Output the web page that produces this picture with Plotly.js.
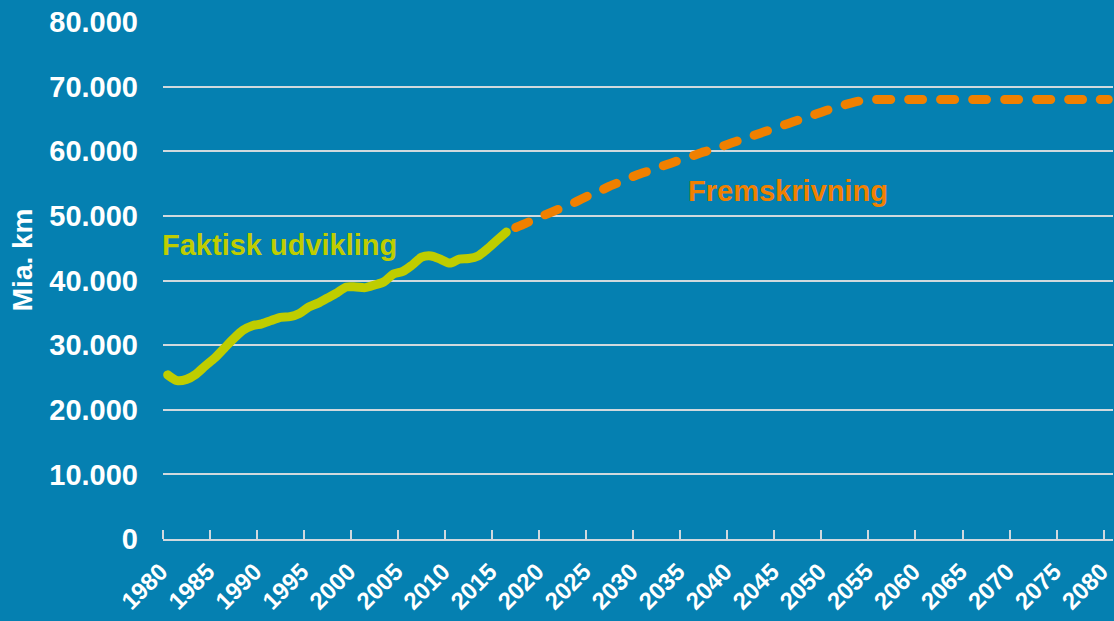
<!DOCTYPE html>
<html>
<head>
<meta charset="utf-8">
<script src="https://cdn.plot.ly/plotly-3.0.1.min.js"></script>
<style>
  html, body { margin: 0; padding: 0; background: #0580b1; }
  #chart { width: 1114px; height: 621px; }
  .scatterlayer .js-line { stroke-linecap: round !important; }
</style>
</head>
<body>
<div id="chart"></div>
<script>
// Actual development (Faktisk udvikling), 1980-2016, mia. km
const actualYears = [1980,1981,1982,1983,1984,1985,1986,1987,1988,1989,1990,1991,1992,1993,1994,1995,1996,1997,1998,1999,2000,2001,2002,2003,2004,2005,2006,2007,2008,2009,2010,2011,2012,2013,2014,2015,2016];
const actualValues = [25400,24500,24700,25500,26800,28000,29500,31000,32300,33000,33300,33800,34300,34400,34900,35900,36500,37300,38100,39000,39000,38900,39300,39800,41000,41400,42400,43600,43800,43300,42700,43300,43400,43800,44900,46200,47500];

// Projection (Fremskrivning), 2017-2080, mia. km
const projYears = [2017,2018,2019,2020,2021,2022,2023,2024,2025,2026,2027,2028,2029,2030,2031,2032,2033,2034,2035,2036,2037,2038,2039,2040,2041,2042,2043,2044,2045,2046,2047,2048,2049,2050,2051,2052,2053,2054,2055,2056,2057,2058,2059,2060,2061,2062,2063,2064,2065,2066,2067,2068,2069,2070,2071,2072,2073,2074,2075,2076,2077,2078,2079,2080];
const projValues = [48200,48800,49500,50100,50700,51300,51900,52600,53300,53900,54600,55200,55800,56400,56900,57400,57900,58400,58900,59400,59900,60300,60800,61300,61800,62300,62800,63300,63800,64300,64800,65300,65800,66300,66800,67200,67600,67900,68000,68000,68000,68000,68000,68000,68000,68000,68000,68000,68000,68000,68000,68000,68000,68000,68000,68000,68000,68000,68000,68000,68000,68000,68000,68000];

// Axis labels
const xTickYears = [1980,1985,1990,1995,2000,2005,2010,2015,2020,2025,2030,2035,2040,2045,2050,2055,2060,2065,2070,2075,2080];
const xTickLabels = xTickYears.map(String);
const yTickVals = [0,10000,20000,30000,40000,50000,60000,70000,80000];
const yTitle = "Mia. km";
const labelActual = "Faktisk udvikling";
const labelProj = "Fremskrivning";

const FONT = '"Liberation Sans", Arial, sans-serif';
const GRID = '#d0d9de';

const traces = [
  {
    x: projYears, y: projValues, type: 'scatter', mode: 'lines',
    line: { color: '#f08000', width: 9, dash: '14px,18px', shape: 'spline', smoothing: 0.6 },
    hoverinfo: 'skip'
  },
  {
    x: actualYears, y: actualValues, type: 'scatter', mode: 'lines',
    line: { color: '#bfcd00', width: 9, shape: 'spline', smoothing: 0.8 },
    hoverinfo: 'skip'
  }
];

const layout = {
  width: 1114, height: 621,
  paper_bgcolor: '#0580b1', plot_bgcolor: '#0580b1',
  margin: { l: 163, r: 1, t: 22, b: 82 },
  showlegend: false,
  separators: ',.',
  font: { family: FONT, color: '#ffffff', size: 28, weight: 'bold' },
  xaxis: {
    range: [1979.5, 2080.5],
    tickmode: 'array', tickvals: xTickYears, ticktext: xTickLabels,
    tickangle: -45,
    ticks: '',
    tickfont: { family: FONT, size: 24, color: '#ffffff', weight: 'bold' },
    showgrid: false, zeroline: false,
    showline: true, linecolor: GRID, linewidth: 2,
    ticklabelstandoff: 7,
    ticklabelshift: -7,
    ticklabeloverflow: 'allow',
    minor: {
      tickmode: 'array',
      tickvals: xTickYears.map(y => y - 0.5),
      ticks: 'inside', ticklen: 9, tickwidth: 2, tickcolor: GRID, showgrid: false
    },
    fixedrange: true
  },
  yaxis: {
    range: [0, 80000],
    tickmode: 'array', tickvals: yTickVals,
    tickformat: ',d',
    tickfont: { family: FONT, size: 29, color: '#ffffff', weight: 'bold' },
    showgrid: true, gridcolor: GRID, gridwidth: 2,
    zeroline: false, showline: false, ticks: '',
    ticklabelstandoff: 24,
    fixedrange: true
  },
  annotations: [
    {
      text: yTitle, textangle: -90, xref: 'paper', yref: 'paper',
      x: -0.148, y: 0.54, xanchor: 'center', yanchor: 'middle', showarrow: false,
      font: { family: FONT, size: 28, color: '#ffffff', weight: 'bold' }
    },
    {
      text: labelActual, xref: 'x', yref: 'y', x: 1979.6, y: 45500, xshift: -4,
      xanchor: 'left', yanchor: 'middle', showarrow: false,
      font: { family: FONT, size: 29, color: '#bfcd00', weight: 'bold' }
    },
    {
      text: labelProj, xref: 'x', yref: 'y', x: 2035.1, y: 53900,
      xanchor: 'left', yanchor: 'middle', showarrow: false,
      font: { family: FONT, size: 29, color: '#f08000', weight: 'bold' }
    }
  ]
};

Plotly.newPlot('chart', traces, layout, { displayModeBar: false, staticPlot: true });
</script>
</body>
</html>
